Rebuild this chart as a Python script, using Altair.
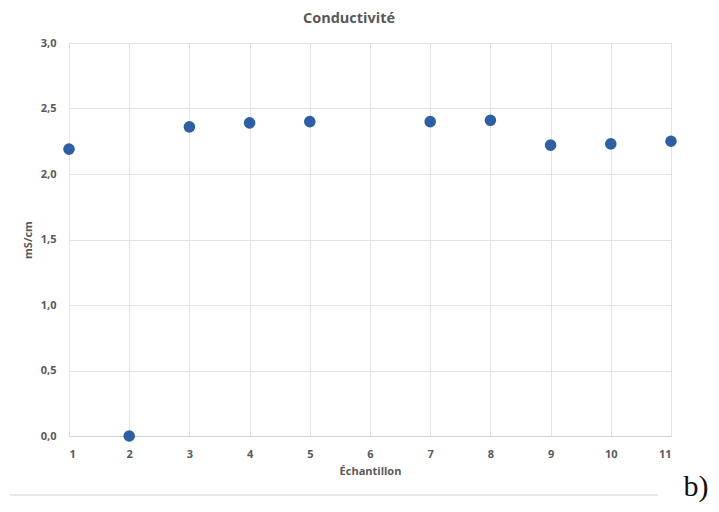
import altair as alt
import pandas as pd

echantillon = [1, 2, 3, 4, 5, 7, 8, 9, 10, 11]
conductivite = [2.19, 0.0, 2.36, 2.39, 2.40, 2.40, 2.41, 2.22, 2.23, 2.25]

x_ticks = list(range(1, 12))
y_ticks = [0, 0.5, 1.0, 1.5, 2.0, 2.5, 3.0]

df = pd.DataFrame({"Échantillon": echantillon, "mS/cm": conductivite})

FONT = "Open Sans"
GRAY = "#595959"

points = alt.Chart(df).mark_circle(size=135, color="#2E5FA3", opacity=1).encode(
    x=alt.X(
        "Échantillon:Q",
        scale=alt.Scale(domain=[1, 11], nice=False, zero=False),
        axis=alt.Axis(
            values=x_ticks, title="Échantillon", grid=True, gridColor="#e3e3e3",
            domainColor="#d4d4d4", ticks=False, labelPadding=12, labelFontSize=11,
            labelFont=FONT, labelColor=GRAY, labelFontWeight="bold",
            titleFont=FONT, titleColor=GRAY, titleFontSize=11, titleFontWeight="bold",
            titlePadding=6,
        ),
    ),
    y=alt.Y(
        "mS/cm:Q",
        scale=alt.Scale(domain=[0, 3], nice=False),
        axis=alt.Axis(
            values=y_ticks, title="mS/cm", grid=True, gridColor="#e3e3e3",
            domainColor="#e3e3e3", ticks=False, labelPadding=13, labelFontSize=11,
            labelFont=FONT, labelColor=GRAY, labelFontWeight="bold",
            labelExpr="replace(format(datum.value, '.1f'), '.', ',')",
            titleFont=FONT, titleColor=GRAY, titleFontSize=11, titleFontWeight="bold",
            titlePadding=7,
        ),
    ),
)

label_b = alt.Chart(pd.DataFrame({"t": ["b)"]})).mark_text(
    font="Liberation Serif", fontSize=30, color="#111111", align="center", baseline="middle"
).encode(x=alt.value(627), y=alt.value(444), text="t:N")

bottom_line = alt.Chart(pd.DataFrame({"a": [0]})).mark_rule(color="#e0e0e0", strokeWidth=1.5).encode(
    x=alt.value(-59), x2=alt.value(589), y=alt.value(452)
)

chart = alt.layer(points, bottom_line, label_b).properties(
    width=602,
    height=393,
    title=alt.TitleParams(
        "Conductivité", font=FONT, fontSize=14.5, fontWeight="bold", color=GRAY,
        anchor="middle", dx=-21, offset=11,
    ),
    autosize=alt.AutoSizeParams(type="none"),
    padding={"left": 61, "top": 35, "right": 40, "bottom": 70},
).configure_view(stroke=None).configure(background="white")

chart.save("out.html", embed_options={"renderer": "svg", "actions": False})
